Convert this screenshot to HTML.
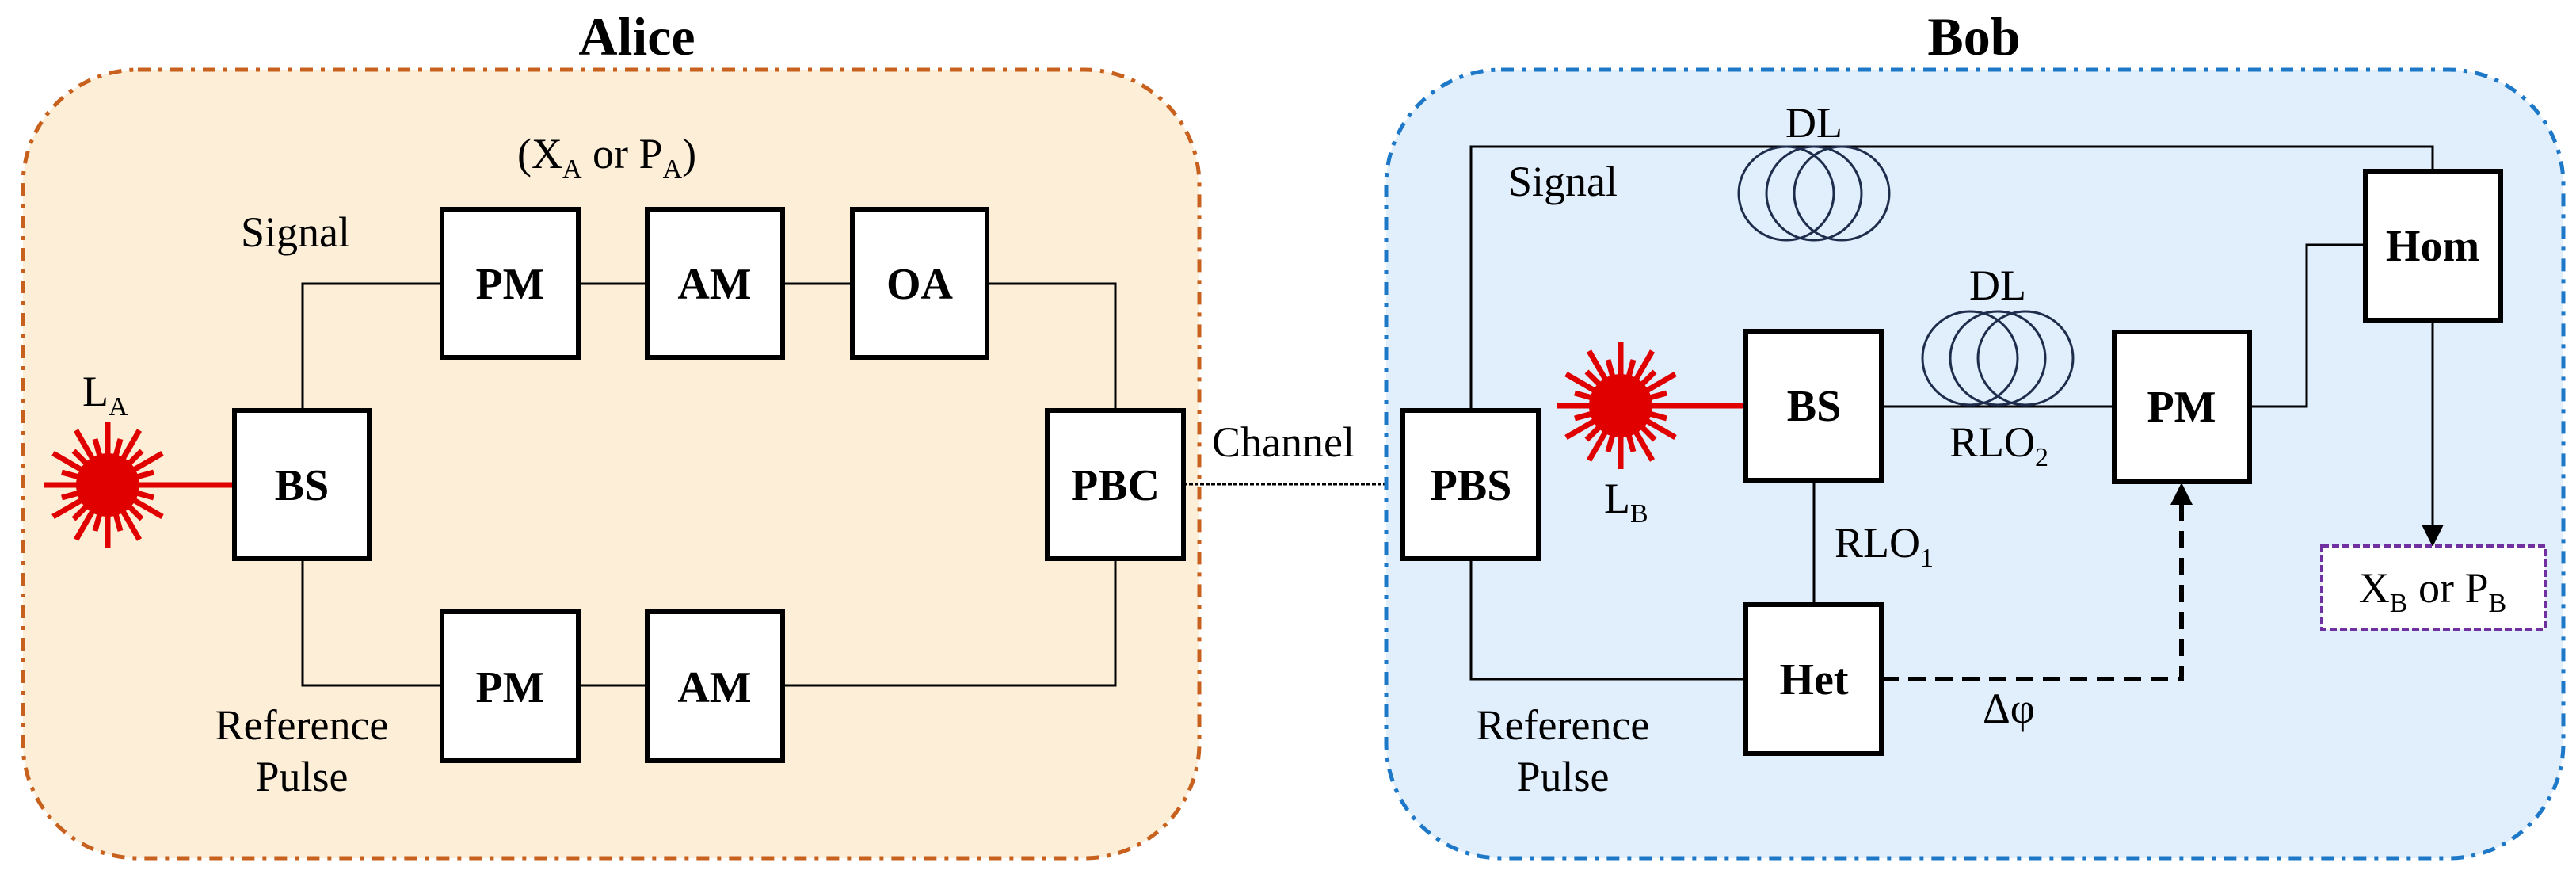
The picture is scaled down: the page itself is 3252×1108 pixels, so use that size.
<!DOCTYPE html>
<html><head><meta charset="utf-8"><style>
html,body{margin:0;padding:0;background:#fff;}
svg{display:block;}
svg text, svg tspan{font-family:"Liberation Serif","Times New Roman","DejaVu Serif",serif !important;fill:#000;}
.b{font-weight:bold;font-size:56px;text-anchor:middle;}
.r{font-size:54px;font-weight:normal;font-style:normal;}
.s{font-size:34px;}
</style></head><body>
<svg width="3252" height="1108" viewBox="0 0 3252 1108" xmlns="http://www.w3.org/2000/svg" font-family="'Liberation Serif', 'DejaVu Serif', serif">
<defs>
<g id="laser">
<circle r="40" fill="#e00000"/>
<g stroke="#e00000" stroke-width="7" stroke-linecap="butt">
<line x1="0" y1="-80" x2="0" y2="80"/>
<line x1="-80" y1="0" x2="80" y2="0"/>
<line x1="-40" y1="-69" x2="40" y2="69"/>
<line x1="40" y1="-69" x2="-40" y2="69"/>
<line x1="-69" y1="-40" x2="69" y2="40"/>
<line x1="69" y1="-40" x2="-69" y2="40"/>
<line x1="-58" y1="-16" x2="58" y2="16"/>
<line x1="58" y1="-16" x2="-58" y2="16"/>
<line x1="-16" y1="-58" x2="16" y2="58"/>
<line x1="16" y1="-58" x2="-16" y2="58"/>
<line x1="-43" y1="-43" x2="43" y2="43"/>
<line x1="43" y1="-43" x2="-43" y2="43"/>
</g>
</g>
<g id="coil" fill="none" stroke="#1f2d4d" stroke-width="3">
<ellipse cx="-35" cy="0" rx="60" ry="59"/>
<ellipse cx="0" cy="0" rx="60" ry="59"/>
<ellipse cx="35" cy="0" rx="60" ry="59"/>
</g>
</defs>

<!-- Alice -->
<rect x="29" y="88" width="1485" height="995" rx="145" fill="#fdeed8" stroke="#c8611e" stroke-width="5" stroke-dasharray="16 10 5 10"/>
<text x="804" y="69" style="font-size:68px;font-weight:bold;text-anchor:middle">Alice</text>

<g fill="none" stroke="#000" stroke-width="3">
<polyline points="382,518 382,358 558,358"/>
<line x1="730" y1="358" x2="817" y2="358"/>
<line x1="988" y1="358" x2="1076" y2="358"/>
<polyline points="1246,358 1408,358 1408,518"/>
<polyline points="382,705 382,865 558,865"/>
<line x1="730" y1="865" x2="817" y2="865"/>
<polyline points="988,865 1408,865 1408,705"/>
</g>
<line x1="136" y1="612" x2="296" y2="612" stroke="#e00000" stroke-width="7"/>
<use href="#laser" x="136" y="612"/>

<g fill="#fff" stroke="#000" stroke-width="6">
<rect x="558" y="264" width="172" height="187"/>
<rect x="817" y="264" width="171" height="187"/>
<rect x="1076" y="264" width="170" height="187"/>
<rect x="296" y="518" width="170" height="187"/>
<rect x="1322" y="518" width="172" height="187"/>
<rect x="558" y="772" width="172" height="188"/>
<rect x="817" y="772" width="171" height="188"/>
</g>
<g>
<text class="b" x="644" y="377">PM</text>
<text class="b" x="902" y="377">AM</text>
<text class="b" x="1161" y="377">OA</text>
<text class="b" x="381" y="631">BS</text>
<text class="b" x="1408" y="631">PBC</text>
<text class="b" x="644" y="886">PM</text>
<text class="b" x="902" y="886">AM</text>

<text class="r" x="104" y="512">L<tspan class="s" dy="12">A</tspan></text>
<text class="r" x="304" y="311">Signal</text>
<text class="r" x="653" y="212">(X<tspan class="s" dy="12">A</tspan><tspan dy="-12"> or P</tspan><tspan class="s" dy="12">A</tspan><tspan dy="-12">)</tspan></text>
<text class="r" x="381" y="933" text-anchor="middle">Reference</text>
<text class="r" x="381" y="998" text-anchor="middle">Pulse</text>
<text class="r" x="1530" y="576">Channel</text>
</g>

<line x1="1494" y1="611" x2="1771" y2="611" stroke="#000" stroke-width="3" stroke-dasharray="5 2"/>

<!-- Bob -->
<rect x="1750" y="88" width="1486" height="995" rx="145" fill="#e1eefc" stroke="#1e78c8" stroke-width="5" stroke-dasharray="16 10 5 10"/>
<text x="2492" y="69" style="font-size:68px;font-weight:bold;text-anchor:middle">Bob</text>

<g fill="none" stroke="#000" stroke-width="3">
<polyline points="1857,518 1857,185 3071,185 3071,216"/>
<line x1="2375" y1="513" x2="2669" y2="513"/>
<polyline points="2840,513 2912,513 2912,309 2986,309"/>
<line x1="2290" y1="606" x2="2290" y2="763"/>
<polyline points="1857,705 1857,857 2204,857"/>
<line x1="3071" y1="404" x2="3071" y2="665"/>
</g>
<polygon points="3057,662 3085,662 3071,690" fill="#000"/>
<polyline points="2375,857 2754,857 2754,636" fill="none" stroke="#000" stroke-width="6" stroke-dasharray="22 12"/>
<polygon points="2740,637 2768,637 2754,609" fill="#000"/>

<use href="#coil" x="2290" y="244"/>
<use href="#coil" x="2522" y="452"/>

<line x1="2046" y1="512" x2="2204" y2="512" stroke="#e00000" stroke-width="7"/>
<use href="#laser" x="2046" y="512"/>

<g fill="#fff" stroke="#000" stroke-width="6">
<rect x="1771" y="518" width="171" height="187"/>
<rect x="2204" y="418" width="171" height="188"/>
<rect x="2204" y="763" width="171" height="188"/>
<rect x="2669" y="419" width="171" height="189"/>
<rect x="2986" y="216" width="171" height="188"/>
</g>
<rect x="2931" y="689" width="282" height="105" fill="#fff" stroke="#7030a0" stroke-width="4" stroke-dasharray="9 4"/>

<g>
<text class="b" x="1857" y="631">PBS</text>
<text class="b" x="2290" y="531">BS</text>
<text class="b" x="2290" y="876">Het</text>
<text class="b" x="2754" y="532">PM</text>
<text class="b" x="3071" y="329">Hom</text>

<text class="r" x="2290" y="173" text-anchor="middle">DL</text>
<text class="r" x="2522" y="378" text-anchor="middle">DL</text>
<text class="r" x="1904" y="247">Signal</text>
<text class="r" x="2025" y="647">L<tspan class="s" dy="12">B</tspan></text>
<text class="r" x="2461" y="576">RLO<tspan class="s" dy="12">2</tspan></text>
<text class="r" x="2316" y="703">RLO<tspan class="s" dy="12">1</tspan></text>
<text class="r" x="2503" y="912">Δφ</text>
<text class="r" x="1973" y="933" text-anchor="middle">Reference</text>
<text class="r" x="1973" y="998" text-anchor="middle">Pulse</text>
<text class="r" x="3071" y="760" text-anchor="middle">X<tspan class="s" dy="12">B</tspan><tspan dy="-12"> or P</tspan><tspan class="s" dy="12">B</tspan></text>
</g>
</svg>
</body></html>
